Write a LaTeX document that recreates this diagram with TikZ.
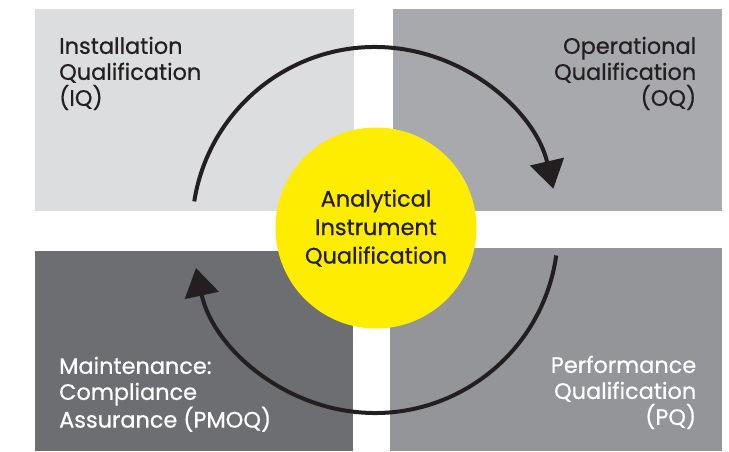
\documentclass[tikz,border=0pt]{standalone}
\usepackage{fontspec}
\setmainfont{Poppins}[UprightFeatures={FakeBold=0.6}]
\usetikzlibrary{positioning,arrows.meta,calc}
\definecolor{iqgray}{HTML}{DCDDDE}
\definecolor{oqgray}{HTML}{A7A9AC}
\definecolor{pqgray}{HTML}{939598}
\definecolor{pmoqgray}{HTML}{6D6E71}
\definecolor{aiqyellow}{HTML}{FFED00}
\definecolor{ink}{HTML}{231F20}

\begin{document}
\begin{tikzpicture}[x=1pt,y=1pt,>={Triangle[length=28pt,width=34pt]},
	quad/.style={inner sep=0pt,anchor=south west},
	lbl/.style={inner sep=0pt,font=\fontsize{22.4}{26}\selectfont},
	cycle/.style={draw=ink,line width=4pt}
	]
	\useasboundingbox (0,0) rectangle (729,451);

	\node[quad,fill=iqgray,minimum width=319pt,minimum height=202pt] (iq) at (35,240) {};
	\node[quad,fill=oqgray,minimum width=329pt,minimum height=202pt] (oq) at (393,240) {};
	\node[quad,fill=pmoqgray,minimum width=318pt,minimum height=200pt] (pmoq) at (35,0) {};
	\node[quad,fill=pqgray,minimum width=332pt,minimum height=203pt] (pq) at (390,0) {};

	\node[lbl,text=ink,align=left,anchor=north west] (iq text) at ([xshift=24pt,yshift=-28pt]iq.north west) {Installation\\Qualification\\(IQ)};
	\node[lbl,text=ink,align=right,anchor=north east] (oq text) at ([xshift=-26pt,yshift=-28pt]oq.north east) {Operational\\Qualification\\(OQ)};
	\node[lbl,text=white,align=left,anchor=north west] (pmoq text) at ([xshift=24pt,yshift=-106pt]pmoq.north west) {Maintenance:\\Compliance\\Assurance (PMOQ)};
	\node[lbl,text=white,align=right,anchor=north east] (pq text) at ([xshift=-26pt,yshift=-108pt]pq.north east) {Performance\\Qualification\\(PQ)};

	\coordinate (hub) at (375,221);
	\coordinate (iq start) at ($(hub)+(171:183)$);
	\coordinate (pq start) at ($(hub)+(-8:183)$);

	\draw[cycle,->] (iq start) arc[start angle=171,end angle=13,radius=183];
	\draw[cycle,->] (pq start) arc[start angle=-8,end angle=-168,radius=183];

	\node[circle,fill=aiqyellow,minimum size=201pt,inner sep=0pt,text=ink,align=center,
		font=\fontsize{22.4}{28.5}\selectfont] (aiq) at (376,223) {Analytical\\Instrument\\Qualification};

\end{tikzpicture}
\end{document}
